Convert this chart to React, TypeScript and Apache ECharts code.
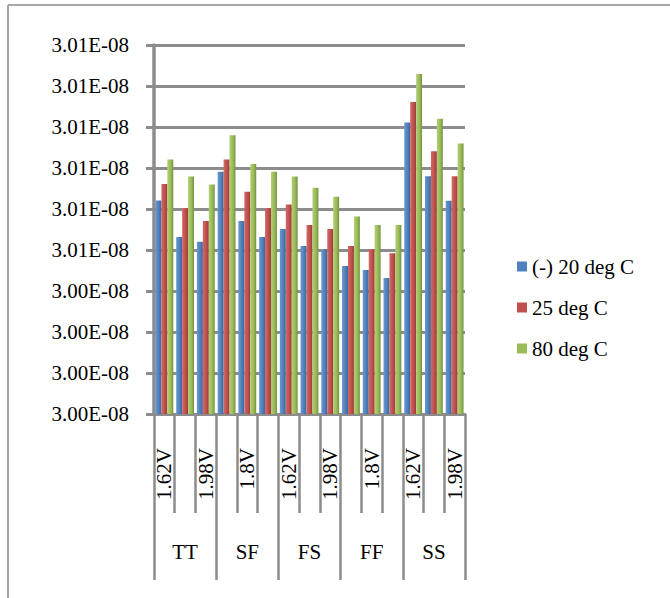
import React, { useEffect, useRef } from "react";
import * as echarts from "echarts";

// Process corners and supply voltages on the category axis
const groups = ["TT", "SF", "FS", "FF", "SS"];
const voltages = ["1.62V", "1.8V", "1.98V"];
const categories = groups.flatMap(() => voltages);

// Series names
const seriesNames = ["(-) 20 deg C", "25 deg C", "80 deg C"];

// Measured values per corner/voltage
const tempMinus20 = [
  3.00621e-8, 3.00532e-8, 3.0052e-8,
  3.00691e-8, 3.00571e-8, 3.00532e-8,
  3.00551e-8, 3.0051e-8, 3.00502e-8,
  3.00461e-8, 3.00451e-8, 3.00432e-8,
  3.00811e-8, 3.0068e-8, 3.0062e-8,
];
const temp25 = [
  3.00661e-8, 3.00602e-8, 3.00571e-8,
  3.00721e-8, 3.00642e-8, 3.00602e-8,
  3.00611e-8, 3.00561e-8, 3.00551e-8,
  3.0051e-8, 3.00502e-8, 3.00492e-8,
  3.00861e-8, 3.00741e-8, 3.0068e-8,
];
const temp80 = [
  3.00721e-8, 3.00679e-8, 3.0066e-8,
  3.0078e-8, 3.0071e-8, 3.00691e-8,
  3.00679e-8, 3.00652e-8, 3.0063e-8,
  3.00582e-8, 3.00561e-8, 3.00561e-8,
  3.00929e-8, 3.0082e-8, 3.0076e-8,
];

// Value axis range (ticks every 1e-11)
const yMin = 3.001e-8;
const yMax = 3.01e-8;
const yStep = 1e-11;

const palette = [
  { base: "#4F81BD", light: "#6A98D0", dark: "#3A6699" },
  { base: "#C0504D", light: "#D06A67", dark: "#9A3B39" },
  { base: "#9BBB59", light: "#B2CF74", dark: "#76923F" },
];

const FONT = '"Liberation Serif", "Times New Roman", serif';
const AXIS_GRAY = "#8c8c8c";

function formatTick(v: number): string {
  const k = Math.round(v / yStep);
  const m = Math.round(k / 10) / 100;
  return m.toFixed(2) + "E-08";
}

function barFill(i: number) {
  const c = palette[i];
  return {
    type: "linear",
    x: 0,
    y: 0,
    x2: 1,
    y2: 0,
    colorStops: [
      { offset: 0, color: c.light },
      { offset: 0.55, color: c.base },
      { offset: 1, color: c.dark },
    ],
  };
}

export default function App() {
  const ref = useRef<HTMLDivElement>(null);

  useEffect(() => {
    if (!ref.current) return;
    const chart = echarts.init(ref.current, undefined, { renderer: "svg" });
    const values = [tempMinus20, temp25, temp80];

    chart.setOption({
      animation: false,
      backgroundColor: "#ffffff",
      grid: { left: 154, top: 45, width: 311, bottom: 184, containLabel: false },
      legend: {
        orient: "vertical",
        left: 512,
        top: 251,
        itemWidth: 10,
        itemHeight: 10,
        itemGap: 20,
        icon: "rect",
        textStyle: { fontFamily: FONT, fontSize: 21, color: "#000" },
        data: seriesNames.map((name, i) => ({
          name,
          itemStyle: { color: palette[i].base },
        })),
      },
      xAxis: [
        {
          type: "category",
          data: categories,
          position: "bottom",
          axisLine: { show: true, lineStyle: { color: AXIS_GRAY, width: 3 } },
          axisTick: {
            show: true,
            interval: 0,
            length: 99,
            lineStyle: { color: AXIS_GRAY, width: 2.5 },
          },
          axisLabel: {
            interval: 1,
            rotate: 90,
            margin: 34,
            fontFamily: FONT,
            fontSize: 21,
            color: "#000",
          },
          splitLine: { show: false },
        },
        {
          type: "category",
          data: groups,
          position: "bottom",
          offset: 99,
          axisLine: { show: false },
          axisTick: {
            show: true,
            interval: 0,
            length: 67,
            lineStyle: { color: AXIS_GRAY, width: 2.5 },
          },
          axisLabel: {
            interval: 0,
            margin: 28,
            fontFamily: FONT,
            fontSize: 21,
            color: "#000",
          },
          splitLine: { show: false },
        },
      ],
      yAxis: {
        type: "value",
        min: yMin,
        max: yMax,
        interval: yStep,
        axisLine: { show: true, lineStyle: { color: AXIS_GRAY, width: 3.5 } },
        axisTick: { show: true, length: 8, lineStyle: { color: AXIS_GRAY, width: 3 } },
        axisLabel: {
          margin: 25,
          fontFamily: FONT,
          fontSize: 21,
          color: "#000",
          formatter: formatTick,
        },
        splitLine: {
          show: true,
          lineStyle: { color: AXIS_GRAY, width: 3, type: "solid" },
        },
      },
      series: seriesNames.map((name, i) => ({
        name,
        type: "bar",
        xAxisIndex: 0,
        data: values[i],
        barGap: "0%",
        barCategoryGap: "14%",
        itemStyle: { color: barFill(i) },
      })),
      graphic: [
        {
          type: "line",
          shape: { x1: 8, y1: 5, x2: 670, y2: 5 },
          style: { stroke: "#a6a6a6", lineWidth: 2 },
          silent: true,
        },
        {
          type: "line",
          shape: { x1: 8, y1: 5, x2: 8, y2: 598 },
          style: { stroke: "#a6a6a6", lineWidth: 2 },
          silent: true,
        },
      ],
    });

    return () => chart.dispose();
  }, []);

  return (
    <div
      ref={ref}
      style={{ position: "absolute", left: 0, top: 0, width: 670, height: 598 }}
    />
  );
}
